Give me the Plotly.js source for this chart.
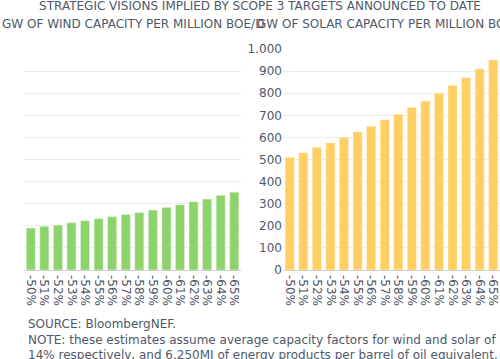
<!DOCTYPE html>
<html><head><meta charset="utf-8">
<script src="https://cdn.plot.ly/plotly-3.0.1.min.js"></script>
<style>html,body{margin:0;padding:0;overflow:hidden;background:#fff}</style>
</head><body><div id="chart" style="width:500px;height:359px"></div>
<script>
const categories = ["-50%","-51%","-52%","-53%","-54%","-55%","-56%","-57%","-58%","-59%","-60%","-61%","-62%","-63%","-64%","-65%"];
const windValues = [190, 197, 203, 214, 223, 232, 241, 251, 260, 271, 283, 295, 309, 321, 338, 352];
const solarValues = [510, 530, 555, 575, 600, 625, 650, 680, 705, 735, 765, 800, 835, 870, 910, 950];
const mainTitle = "STRATEGIC VISIONS IMPLIED BY SCOPE 3 TARGETS ANNOUNCED TO DATE";
const windTitle = "GW OF WIND CAPACITY PER MILLION BOE/D";
const solarTitle = "GW OF SOLAR CAPACITY PER MILLION BOE/D";
const noteText = "SOURCE: BloombergNEF.<br>NOTE: these estimates assume average capacity factors for wind and solar of 35% and<br>14% respectively, and 6.250MJ of energy products per barrel of oil equivalent.";

const font = "DejaVu Sans, sans-serif";
const textColor = "#4f5868";
const data = [
  {type:"bar", x:categories, y:windValues, xaxis:"x", yaxis:"y",
   marker:{color:"#8dd36b", line:{color:"#e8f5e0", width:0.5}}, hoverinfo:"x+y"},
  {type:"bar", x:categories, y:solarValues, xaxis:"x2", yaxis:"y2",
   marker:{color:"#ffcf63", line:{color:"#fff1d0", width:0.5}}, hoverinfo:"x+y"}
];
const axisX = {type:"category", dtick:1, tickangle:90, tickfont:{size:12, color:textColor, family:font}, showgrid:false, ticks:"", ticklabelstandoff:4, showline:false, fixedrange:true};
const axisY = {range:[0,1000], gridcolor:"#ececec", zeroline:true, zerolinecolor:"#cfcfcf", zerolinewidth:1, tickfont:{size:12,color:textColor,family:font}, dtick:100, tickformat:",d", fixedrange:true};
const layout = {
  width:500, height:359,
  margin:{l:24, r:0, t:49, b:89},
  paper_bgcolor:"#ffffff", plot_bgcolor:"#ffffff",
  separators:",.",
  showlegend:false,
  bargap:0.33,
  font:{family:font, color:textColor, size:12},
  title:{text:mainTitle, font:{size:12, color:textColor, family:font}, x:0.52, xref:"container", y:0.983, yanchor:"middle"},
  xaxis:Object.assign({domain:[0,0.456], anchor:"y"}, axisX),
  xaxis2:Object.assign({domain:[0.544,1], anchor:"y2"}, axisX),
  yaxis:Object.assign({anchor:"x", showticklabels:false}, axisY),
  yaxis2:Object.assign({anchor:"x2", showticklabels:true}, axisY),
  annotations:[
    {text:windTitle, xref:"paper", yref:"paper", x:0.228, y:1.113, xanchor:"center", yanchor:"middle", showarrow:false, font:{size:12,color:textColor,family:font}},
    {text:solarTitle, xref:"paper", yref:"paper", x:0.772, y:1.113, xanchor:"center", yanchor:"middle", showarrow:false, font:{size:12,color:textColor,family:font}},
    {text:noteText, xref:"paper", yref:"paper", x:0.005, y:-0.205, xanchor:"left", yanchor:"top", align:"left", showarrow:false, font:{size:12,color:textColor,family:font}}
  ]
};
Plotly.newPlot("chart", data, layout, {displayModeBar:false, staticPlot:true});
</script></body></html>
